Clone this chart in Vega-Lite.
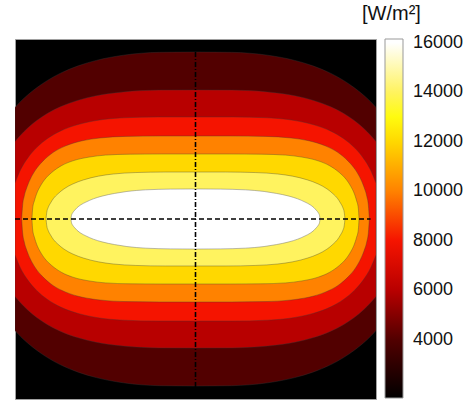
{
  "$schema": "https://vega.github.io/schema/vega-lite/v6.json",
  "width": 361,
  "height": 360,
  "autosize": {"type": "none"},
  "padding": {"left": 15, "top": 39, "right": 100, "bottom": 2},
  "background": "white",
  "title": {"text": "[W/m²]", "anchor": "start", "frame": "group", "align": "left", "dx": 347, "dy": 19, "offset": 14, "baseline": "bottom", "fontSize": 20, "font": "Liberation Sans", "fontWeight": "normal", "color": "#111111"},
  "config": {"view": {"fill": "#000000", "stroke": "#a0a0a0", "strokeWidth": 1}},
  "layer": [
    {
      "data": {"values": [
        {"b":4000,"x":-1,"t":0.62,"u":-0.62},{"b":4000,"x":-0.97,"t":0.652,"u":-0.652},{"b":4000,"x":-0.93,"t":0.689,"u":-0.689},{"b":4000,"x":-0.88,"t":0.729,"u":-0.729},{"b":4000,"x":-0.82,"t":0.77,"u":-0.77},{"b":4000,"x":-0.75,"t":0.809,"u":-0.809},{"b":4000,"x":-0.65,"t":0.851,"u":-0.851},{"b":4000,"x":-0.55,"t":0.881,"u":-0.881},{"b":4000,"x":-0.4,"t":0.91,"u":-0.91},{"b":4000,"x":-0.2,"t":0.926,"u":-0.926},{"b":4000,"x":0,"t":0.928,"u":-0.928},{"b":4000,"x":0.2,"t":0.926,"u":-0.926},{"b":4000,"x":0.4,"t":0.91,"u":-0.91},{"b":4000,"x":0.55,"t":0.881,"u":-0.881},{"b":4000,"x":0.65,"t":0.851,"u":-0.851},{"b":4000,"x":0.75,"t":0.809,"u":-0.809},{"b":4000,"x":0.82,"t":0.77,"u":-0.77},{"b":4000,"x":0.88,"t":0.729,"u":-0.729},{"b":4000,"x":0.93,"t":0.689,"u":-0.689},{"b":4000,"x":0.97,"t":0.652,"u":-0.652},{"b":4000,"x":1,"t":0.62,"u":-0.62},
        {"b":6000,"x":-1,"t":0.43,"u":-0.43},{"b":6000,"x":-0.97,"t":0.465,"u":-0.465},{"b":6000,"x":-0.93,"t":0.505,"u":-0.505},{"b":6000,"x":-0.88,"t":0.547,"u":-0.547},{"b":6000,"x":-0.82,"t":0.587,"u":-0.587},{"b":6000,"x":-0.75,"t":0.623,"u":-0.623},{"b":6000,"x":-0.65,"t":0.66,"u":-0.66},{"b":6000,"x":-0.55,"t":0.685,"u":-0.685},{"b":6000,"x":-0.4,"t":0.706,"u":-0.706},{"b":6000,"x":-0.2,"t":0.716,"u":-0.716},{"b":6000,"x":0,"t":0.717,"u":-0.717},{"b":6000,"x":0.2,"t":0.716,"u":-0.716},{"b":6000,"x":0.4,"t":0.706,"u":-0.706},{"b":6000,"x":0.55,"t":0.685,"u":-0.685},{"b":6000,"x":0.65,"t":0.66,"u":-0.66},{"b":6000,"x":0.75,"t":0.623,"u":-0.623},{"b":6000,"x":0.82,"t":0.587,"u":-0.587},{"b":6000,"x":0.88,"t":0.547,"u":-0.547},{"b":6000,"x":0.93,"t":0.505,"u":-0.505},{"b":6000,"x":0.97,"t":0.465,"u":-0.465},{"b":6000,"x":1,"t":0.43,"u":-0.43},
        {"b":8000,"x":-1,"t":0.2,"u":-0.2},{"b":8000,"x":-0.97,"t":0.272,"u":-0.272},{"b":8000,"x":-0.93,"t":0.338,"u":-0.338},{"b":8000,"x":-0.88,"t":0.397,"u":-0.397},{"b":8000,"x":-0.82,"t":0.447,"u":-0.447},{"b":8000,"x":-0.75,"t":0.488,"u":-0.488},{"b":8000,"x":-0.65,"t":0.525,"u":-0.525},{"b":8000,"x":-0.55,"t":0.547,"u":-0.547},{"b":8000,"x":-0.4,"t":0.562,"u":-0.562},{"b":8000,"x":-0.2,"t":0.567,"u":-0.567},{"b":8000,"x":0,"t":0.567,"u":-0.567},{"b":8000,"x":0.2,"t":0.567,"u":-0.567},{"b":8000,"x":0.4,"t":0.562,"u":-0.562},{"b":8000,"x":0.55,"t":0.547,"u":-0.547},{"b":8000,"x":0.65,"t":0.525,"u":-0.525},{"b":8000,"x":0.75,"t":0.488,"u":-0.488},{"b":8000,"x":0.82,"t":0.447,"u":-0.447},{"b":8000,"x":0.88,"t":0.397,"u":-0.397},{"b":8000,"x":0.93,"t":0.338,"u":-0.338},{"b":8000,"x":0.97,"t":0.272,"u":-0.272},{"b":8000,"x":1,"t":0.2,"u":-0.2},
        {"b":10000,"x":-0.963,"t":0,"u":0},{"b":10000,"x":-0.958,"t":0.074,"u":-0.074},{"b":10000,"x":-0.949,"t":0.126,"u":-0.126},{"b":10000,"x":-0.934,"t":0.176,"u":-0.176},{"b":10000,"x":-0.915,"t":0.222,"u":-0.222},{"b":10000,"x":-0.886,"t":0.273,"u":-0.273},{"b":10000,"x":-0.847,"t":0.32,"u":-0.32},{"b":10000,"x":-0.79,"t":0.369,"u":-0.369},{"b":10000,"x":-0.722,"t":0.405,"u":-0.405},{"b":10000,"x":-0.626,"t":0.435,"u":-0.435},{"b":10000,"x":-0.53,"t":0.45,"u":-0.45},{"b":10000,"x":-0.385,"t":0.459,"u":-0.459},{"b":10000,"x":-0.193,"t":0.461,"u":-0.461},{"b":10000,"x":0,"t":0.461,"u":-0.461},{"b":10000,"x":0.193,"t":0.461,"u":-0.461},{"b":10000,"x":0.385,"t":0.459,"u":-0.459},{"b":10000,"x":0.53,"t":0.45,"u":-0.45},{"b":10000,"x":0.626,"t":0.435,"u":-0.435},{"b":10000,"x":0.722,"t":0.405,"u":-0.405},{"b":10000,"x":0.79,"t":0.369,"u":-0.369},{"b":10000,"x":0.847,"t":0.32,"u":-0.32},{"b":10000,"x":0.886,"t":0.273,"u":-0.273},{"b":10000,"x":0.915,"t":0.222,"u":-0.222},{"b":10000,"x":0.934,"t":0.176,"u":-0.176},{"b":10000,"x":0.949,"t":0.126,"u":-0.126},{"b":10000,"x":0.958,"t":0.074,"u":-0.074},{"b":10000,"x":0.963,"t":0,"u":0},
        {"b":12000,"x":-0.906,"t":0,"u":0},{"b":12000,"x":-0.902,"t":0.06,"u":-0.06},{"b":12000,"x":-0.892,"t":0.103,"u":-0.103},{"b":12000,"x":-0.879,"t":0.143,"u":-0.143},{"b":12000,"x":-0.861,"t":0.18,"u":-0.18},{"b":12000,"x":-0.834,"t":0.221,"u":-0.221},{"b":12000,"x":-0.797,"t":0.258,"u":-0.258},{"b":12000,"x":-0.743,"t":0.296,"u":-0.296},{"b":12000,"x":-0.68,"t":0.323,"u":-0.323},{"b":12000,"x":-0.589,"t":0.344,"u":-0.344},{"b":12000,"x":-0.498,"t":0.355,"u":-0.355},{"b":12000,"x":-0.362,"t":0.36,"u":-0.36},{"b":12000,"x":-0.181,"t":0.361,"u":-0.361},{"b":12000,"x":0,"t":0.361,"u":-0.361},{"b":12000,"x":0.181,"t":0.361,"u":-0.361},{"b":12000,"x":0.362,"t":0.36,"u":-0.36},{"b":12000,"x":0.498,"t":0.355,"u":-0.355},{"b":12000,"x":0.589,"t":0.344,"u":-0.344},{"b":12000,"x":0.68,"t":0.323,"u":-0.323},{"b":12000,"x":0.743,"t":0.296,"u":-0.296},{"b":12000,"x":0.797,"t":0.258,"u":-0.258},{"b":12000,"x":0.834,"t":0.221,"u":-0.221},{"b":12000,"x":0.861,"t":0.18,"u":-0.18},{"b":12000,"x":0.879,"t":0.143,"u":-0.143},{"b":12000,"x":0.892,"t":0.103,"u":-0.103},{"b":12000,"x":0.902,"t":0.06,"u":-0.06},{"b":12000,"x":0.906,"t":0,"u":0},
        {"b":14000,"x":-0.828,"t":0,"u":0},{"b":14000,"x":-0.824,"t":0.037,"u":-0.037},{"b":14000,"x":-0.816,"t":0.064,"u":-0.064},{"b":14000,"x":-0.803,"t":0.089,"u":-0.089},{"b":14000,"x":-0.787,"t":0.114,"u":-0.114},{"b":14000,"x":-0.762,"t":0.14,"u":-0.14},{"b":14000,"x":-0.729,"t":0.167,"u":-0.167},{"b":14000,"x":-0.679,"t":0.195,"u":-0.195},{"b":14000,"x":-0.621,"t":0.217,"u":-0.217},{"b":14000,"x":-0.538,"t":0.238,"u":-0.238},{"b":14000,"x":-0.455,"t":0.25,"u":-0.25},{"b":14000,"x":-0.331,"t":0.258,"u":-0.258},{"b":14000,"x":-0.166,"t":0.261,"u":-0.261},{"b":14000,"x":0,"t":0.261,"u":-0.261},{"b":14000,"x":0.166,"t":0.261,"u":-0.261},{"b":14000,"x":0.331,"t":0.258,"u":-0.258},{"b":14000,"x":0.455,"t":0.25,"u":-0.25},{"b":14000,"x":0.538,"t":0.238,"u":-0.238},{"b":14000,"x":0.621,"t":0.217,"u":-0.217},{"b":14000,"x":0.679,"t":0.195,"u":-0.195},{"b":14000,"x":0.729,"t":0.167,"u":-0.167},{"b":14000,"x":0.762,"t":0.14,"u":-0.14},{"b":14000,"x":0.787,"t":0.114,"u":-0.114},{"b":14000,"x":0.803,"t":0.089,"u":-0.089},{"b":14000,"x":0.816,"t":0.064,"u":-0.064},{"b":14000,"x":0.824,"t":0.037,"u":-0.037},{"b":14000,"x":0.828,"t":0,"u":0},
        {"b":16000,"x":-0.69,"t":0,"u":0},{"b":16000,"x":-0.687,"t":0.02,"u":-0.02},{"b":16000,"x":-0.68,"t":0.035,"u":-0.035},{"b":16000,"x":-0.669,"t":0.049,"u":-0.049},{"b":16000,"x":-0.656,"t":0.063,"u":-0.063},{"b":16000,"x":-0.635,"t":0.079,"u":-0.079},{"b":16000,"x":-0.607,"t":0.094,"u":-0.094},{"b":16000,"x":-0.566,"t":0.112,"u":-0.112},{"b":16000,"x":-0.518,"t":0.127,"u":-0.127},{"b":16000,"x":-0.449,"t":0.142,"u":-0.142},{"b":16000,"x":-0.38,"t":0.153,"u":-0.153},{"b":16000,"x":-0.276,"t":0.162,"u":-0.162},{"b":16000,"x":-0.138,"t":0.166,"u":-0.166},{"b":16000,"x":0,"t":0.167,"u":-0.167},{"b":16000,"x":0.138,"t":0.166,"u":-0.166},{"b":16000,"x":0.276,"t":0.162,"u":-0.162},{"b":16000,"x":0.38,"t":0.153,"u":-0.153},{"b":16000,"x":0.449,"t":0.142,"u":-0.142},{"b":16000,"x":0.518,"t":0.127,"u":-0.127},{"b":16000,"x":0.566,"t":0.112,"u":-0.112},{"b":16000,"x":0.607,"t":0.094,"u":-0.094},{"b":16000,"x":0.635,"t":0.079,"u":-0.079},{"b":16000,"x":0.656,"t":0.063,"u":-0.063},{"b":16000,"x":0.669,"t":0.049,"u":-0.049},{"b":16000,"x":0.68,"t":0.035,"u":-0.035},{"b":16000,"x":0.687,"t":0.02,"u":-0.02},{"b":16000,"x":0.69,"t":0,"u":0}
      ]},
      "encoding": {
        "x": {"field": "x", "type": "quantitative", "scale": {"domain": [-1, 1], "nice": false, "zero": false}, "axis": null},
        "y": {"field": "t", "type": "quantitative", "scale": {"domain": [-1, 1], "nice": false, "zero": false}, "axis": null},
        "y2": {"field": "u"},
        "color": {
          "field": "b", "type": "quantitative",
          "scale": {"domain": [1640, 4000, 6000, 8000, 10000, 12000, 13100, 14000, 16000, 16150], "range": ["#000000", "#520000", "#b80000", "#f51400", "#ff8200", "#ffd800", "#ffff10", "#fff35f", "#ffffff", "#ffffff"], "interpolate": "rgb", "nice": false, "zero": false},
          "legend": {"orient": "none", "legendX": 370, "legendY": 0, "title": null, "direction": "vertical", "gradientLength": 359, "gradientThickness": 18, "gradientStrokeColor": "#999999", "gradientStrokeWidth": 1, "values": [4000, 6000, 8000, 10000, 12000, 14000, 16000], "format": "d", "labelFontSize": 18, "labelFont": "Liberation Sans", "labelColor": "#111111", "labelOffset": 10, "labelBaseline": "middle", "labelOverlap": false, "padding": 0}
        }
      },
      "layer": [
        {"transform": [{"filter": "datum.b == 4000"}], "mark": {"type": "area", "interpolate": "monotone", "stroke": "#3a3a3a", "strokeWidth": 0.5, "strokeOpacity": 0.7, "clip": true}},
        {"transform": [{"filter": "datum.b == 6000"}], "mark": {"type": "area", "interpolate": "monotone", "stroke": "#3a3a3a", "strokeWidth": 0.5, "strokeOpacity": 0.7, "clip": true}},
        {"transform": [{"filter": "datum.b == 8000"}], "mark": {"type": "area", "interpolate": "monotone", "stroke": "#3a3a3a", "strokeWidth": 0.5, "strokeOpacity": 0.7, "clip": true}},
        {"transform": [{"filter": "datum.b == 10000"}], "mark": {"type": "area", "interpolate": "monotone", "stroke": "#3a3a3a", "strokeWidth": 0.5, "strokeOpacity": 0.7, "clip": true}},
        {"transform": [{"filter": "datum.b == 12000"}], "mark": {"type": "area", "interpolate": "monotone", "stroke": "#3a3a3a", "strokeWidth": 0.5, "strokeOpacity": 0.7, "clip": true}},
        {"transform": [{"filter": "datum.b == 14000"}], "mark": {"type": "area", "interpolate": "monotone", "stroke": "#3a3a3a", "strokeWidth": 0.5, "strokeOpacity": 0.7, "clip": true}},
        {"transform": [{"filter": "datum.b == 16000"}], "mark": {"type": "area", "interpolate": "monotone", "stroke": "#707070", "strokeWidth": 0.6, "strokeOpacity": 0.8, "clip": true}}
      ]
    },
    {
      "data": {"values": [{"x": -1, "x2": 0.97, "y": 0}]},
      "mark": {"type": "rule", "color": "#000000", "strokeWidth": 1.6, "strokeDash": [5, 3]},
      "encoding": {"x": {"field": "x", "type": "quantitative"}, "x2": {"field": "x2"}, "y": {"field": "y", "type": "quantitative"}}
    },
    {
      "data": {"values": [{"x": 0, "y": -0.933, "y2": 0.928}]},
      "mark": {"type": "rule", "color": "#000000", "strokeWidth": 1.6, "strokeDash": [5, 2, 1, 2]},
      "encoding": {"x": {"field": "x", "type": "quantitative"}, "y": {"field": "y", "type": "quantitative"}, "y2": {"field": "y2"}}
    }
  ]
}
